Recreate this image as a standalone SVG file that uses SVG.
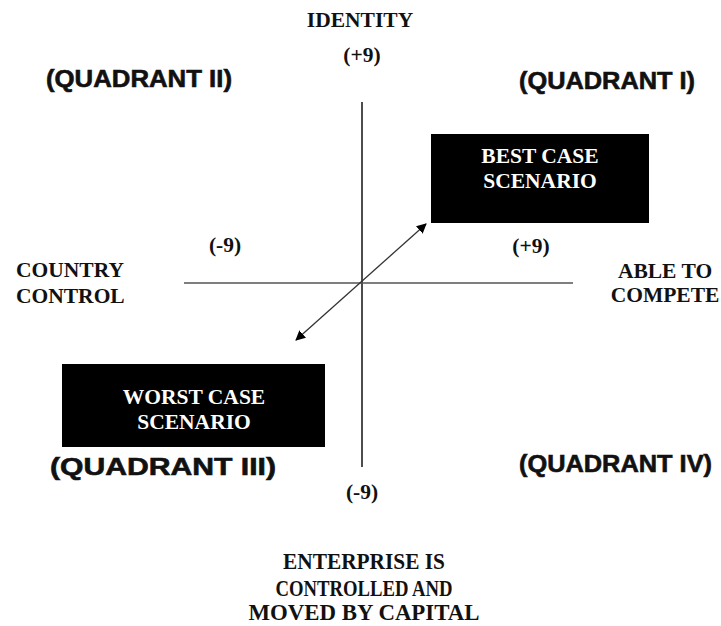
<svg xmlns="http://www.w3.org/2000/svg" width="721" height="626" viewBox="0 0 721 626">
<defs>
<marker id="ah" viewBox="0 0 10 10" refX="9" refY="5" markerWidth="10" markerHeight="10" markerUnits="userSpaceOnUse" orient="auto-start-reverse">
<path d="M0,0 L10,5 L0,10 z" fill="#000"/>
</marker>
<style>
.ser{font-family:"Liberation Serif","Times New Roman",serif;font-weight:bold;font-size:21.5px;fill:#111;}
.cond{font-family:"Liberation Serif","Times New Roman",serif;font-weight:bold;font-size:23px;fill:#111;}
.wht{font-family:"Liberation Serif","Times New Roman",serif;font-weight:bold;font-size:21.5px;fill:#fff;}
.quad{font-family:"Liberation Sans",Arial,sans-serif;font-weight:bold;font-size:24px;fill:#111;stroke:#111;stroke-width:0.6;}
.box{fill:#000;}
</style>
</defs>
<rect width="721" height="626" fill="#fff"/>
<g id="connectors">
<line x1="362" y1="102" x2="362" y2="467" stroke="#000" stroke-width="1.4"/>
<line x1="184" y1="283" x2="573" y2="283" stroke="#555" stroke-width="1.6"/>
<line x1="296" y1="340" x2="426" y2="224" stroke="#333" stroke-width="1.3" marker-start="url(#ah)" marker-end="url(#ah)"/>
</g>
<g id="axis-labels">
<text class="ser" x="360" y="27" text-anchor="middle">IDENTITY</text>
<text class="ser" x="362" y="62" text-anchor="middle">(+9)</text>
<text class="ser" x="225" y="252" text-anchor="middle">(-9)</text>
<text class="ser" x="531" y="253" text-anchor="middle">(+9)</text>
<text class="ser" x="16" y="277">COUNTRY</text>
<text class="ser" x="16" y="303">CONTROL</text>
<text class="ser" x="665" y="278" text-anchor="middle">ABLE TO</text>
<text class="ser" x="665" y="302" text-anchor="middle">COMPETE</text>
<text class="ser" x="362" y="499" text-anchor="middle">(-9)</text>
<text class="cond" x="364" y="569" text-anchor="middle" textLength="162" lengthAdjust="spacingAndGlyphs">ENTERPRISE IS</text>
<text class="cond" x="364" y="596" text-anchor="middle" textLength="177" lengthAdjust="spacingAndGlyphs">CONTROLLED AND</text>
<text class="cond" x="364" y="620" text-anchor="middle" textLength="231" lengthAdjust="spacingAndGlyphs">MOVED BY CAPITAL</text>
</g>
<g id="quadrants">
<text class="quad" x="46" y="87" textLength="186" lengthAdjust="spacingAndGlyphs">(QUADRANT II)</text>
<text class="quad" x="519" y="89" textLength="176" lengthAdjust="spacingAndGlyphs">(QUADRANT I)</text>
<text class="quad" x="50" y="475" textLength="226" lengthAdjust="spacingAndGlyphs">(QUADRANT III)</text>
<text class="quad" x="519" y="472" textLength="193" lengthAdjust="spacingAndGlyphs">(QUADRANT IV)</text>
</g>
<g id="best-case">
<rect class="box" x="431" y="134" width="218" height="89"/>
<text class="wht" x="540" y="163" text-anchor="middle">BEST CASE</text>
<text class="wht" x="540" y="188" text-anchor="middle">SCENARIO</text>
</g>
<g id="worst-case">
<rect class="box" x="62" y="364" width="263" height="83"/>
<text class="wht" x="194" y="404" text-anchor="middle">WORST CASE</text>
<text class="wht" x="194" y="429" text-anchor="middle">SCENARIO</text>
</g>
</svg>
